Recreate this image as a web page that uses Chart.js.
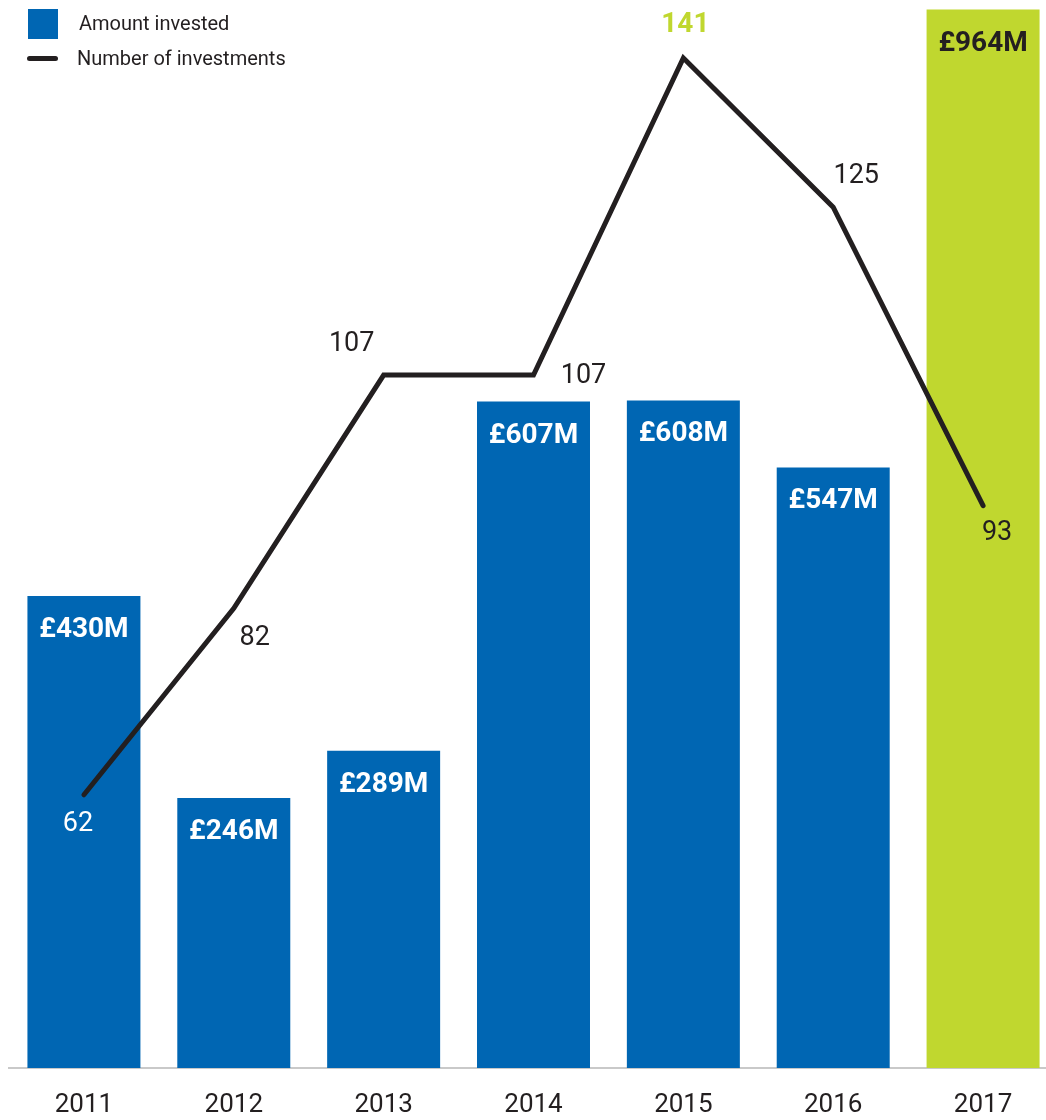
<!DOCTYPE html>
<html>
<head>
<meta charset="utf-8">
<script src="https://cdn.jsdelivr.net/npm/chart.js@4.4.1/dist/chart.umd.min.js"></script>
<style>
  html, body { margin: 0; padding: 0; background: #fff; overflow: hidden; }
  #wrap { position: relative; width: 1060px; height: 1120px; }
  #chart { position: absolute; left: 0; top: 0; }
  .legend { position: absolute; font-family: Roboto, sans-serif; font-size: 20px; color: #231f20; }
  .swatch { position: absolute; }
</style>
</head>
<body>
<div id="wrap">
  <canvas id="chart" width="1060" height="1120"></canvas>
  <div class="swatch" style="left:28px;top:9px;width:30px;height:30px;background:#0066b3;"></div>
  <div class="legend" style="left:79px;top:11px;">Amount invested</div>
  <div class="swatch" style="left:27px;top:56px;width:31px;height:5px;border-radius:3px;background:#231f20;"></div>
  <div class="legend" style="left:77px;top:46px;">Number of investments</div>
</div>
<script>
// dữ liệu
const years = ['2011', '2012', '2013', '2014', '2015', '2016', '2017'];
const amountInvested = [430, 246, 289, 607, 608, 547, 964]; // £M
const numberOfInvestments = [62, 82, 107, 107, 141, 125, 93];

const BLUE = '#0066b3';
const GREEN = '#c0d72f';
const DARK = '#231f20';

// vị trí nhãn của đường (lệch so với điểm)
const lineLabelOffsets = [[-6, 29], [21, 30], [-32, -31], [50, 1], [2, -33], [23, -31], [14, 28]];

const barColors = years.map((y, i) => i === years.length - 1 ? GREEN : BLUE);

const labelPlugin = {
    id: 'valueLabels',
    afterDatasetsDraw(chart) {
        const ctx = chart.ctx;
        const x = chart.scales.x, y = chart.scales.y, y2 = chart.scales.y2;
        ctx.save();
        ctx.textAlign = 'center';
        ctx.textBaseline = 'middle';
        // nhãn cột
        ctx.font = 'bold 28px Roboto';
        amountInvested.forEach((v, i) => {
            ctx.fillStyle = i === years.length - 1 ? DARK : '#ffffff';
            ctx.fillText('£' + v + 'M', x.getPixelForValue(i), y.getPixelForValue(v) + 34);
        });
        // nhãn đường
        numberOfInvestments.forEach((v, i) => {
            const px = x.getPixelForValue(i) + lineLabelOffsets[i][0];
            const py = y2.getPixelForValue(v) + lineLabelOffsets[i][1];
            if (v === Math.max(...numberOfInvestments)) {
                ctx.font = 'bold 28px Roboto';
                ctx.fillStyle = GREEN;
            } else {
                ctx.font = '27px Roboto';
                ctx.fillStyle = i === 0 ? '#ffffff' : DARK;
            }
            ctx.fillText(String(v), px, py);
        });
        ctx.restore();
    }
};

const ctx = document.getElementById('chart').getContext('2d');
new Chart(ctx, {
    type: 'bar',
    data: {
        labels: years,
        datasets: [
            {
                type: 'line',
                label: 'Number of investments',
                data: numberOfInvestments,
                yAxisID: 'y2',
                borderColor: DARK,
                borderWidth: 5,
                borderCapStyle: 'round',
                borderJoinStyle: 'miter',
                pointRadius: 0,
                tension: 0,
                order: 0
            },
            {
                label: 'Amount invested',
                data: amountInvested,
                yAxisID: 'y',
                backgroundColor: barColors,
                categoryPercentage: 1,
                barPercentage: 0.754,
                order: 1
            }
        ]
    },
    options: {
        responsive: false,
        animation: false,
        devicePixelRatio: 1,
        layout: { padding: { left: 9, right: 2, top: 3, bottom: 0 } },
        plugins: {
            legend: { display: false },
            tooltip: { enabled: false }
        },
        scales: {
            x: {
                grid: { display: false, drawTicks: false },
                border: { display: true, color: '#c9c9c9', width: 2 },
                ticks: {
                    color: DARK,
                    font: { family: 'Roboto', size: 26 },
                    padding: 22
                },
                afterFit(scale) { scale.height = 52; }
            },
            y: { display: false, min: 0, max: 970 },
            y2: { display: false, min: 32.7, max: 146.9, position: 'right' }
        }
    },
    plugins: [labelPlugin]
});
</script>
</body>
</html>
